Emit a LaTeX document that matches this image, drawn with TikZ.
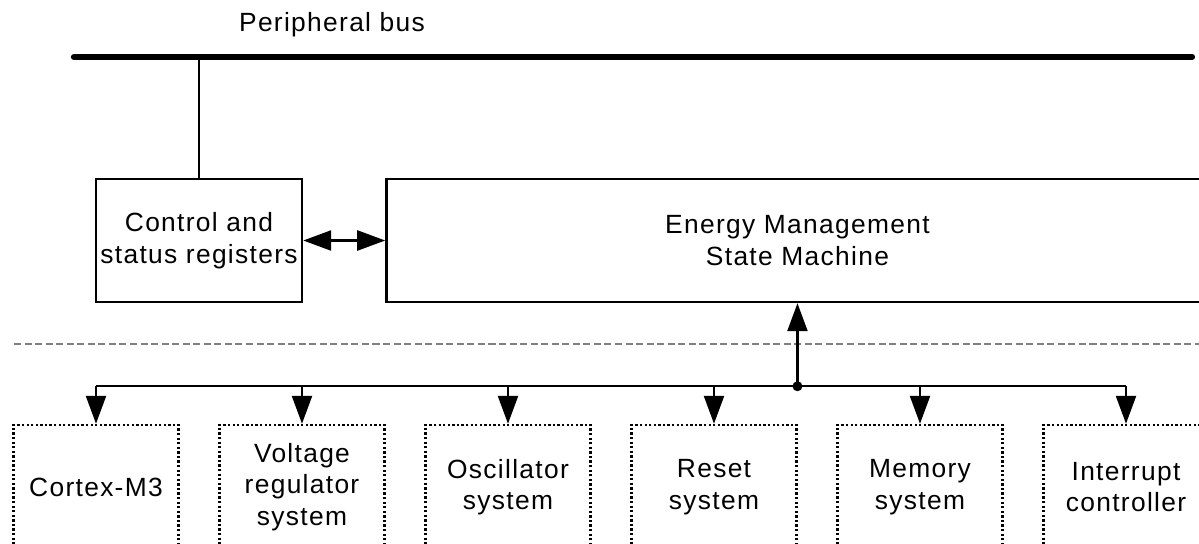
\documentclass[tikz,border=0pt]{standalone}
\usepackage{fontspec}
\setmainfont{Liberation Sans}[LetterSpace=5]
\usetikzlibrary{arrows.meta, positioning}
\definecolor{sepGray}{HTML}{808080}
\tikzset{
  regbox/.style={draw, line width=1.4pt, minimum height=2.46cm, align=center, inner sep=0pt},
  subbox/.style={draw, line width=1.4pt, dash pattern=on 1.3pt off 1.3pt, minimum width=3.3cm,
                 minimum height=2.48cm, align=center, inner sep=0pt},
  sig/.style={line width=1.4pt, -{Triangle[length=0.56cm, width=0.4cm]}},
  sigboth/.style={line width=1.4pt, {Triangle[length=0.56cm, width=0.4cm]}-{Triangle[length=0.56cm, width=0.4cm]}}
}

\begin{document}
\begin{tikzpicture}[font=\fontsize{15}{18}\selectfont]
  \clip (0,0) rectangle (23.98,-10.88);
  % peripheral bus
  \coordinate (busL) at (1.48,-1.14);
  \coordinate (busR) at (23.84,-1.14);
  \draw[line width=3.6pt, line cap=round] (busL) -- (busR);
  \node (buslbl) at (6.64,-0.5) {Peripheral bus};
  % registers and state machine
  \node[regbox, minimum width=4.12cm] (csr) at (3.98,-4.81) {Control and\\status registers};
  \node[regbox, minimum width=16.44cm, right=1.64cm of csr] (ems) {Energy Management\\State Machine};
  \draw[line width=1pt] (csr.north) -- (csr.north |- busL);
  \draw[sigboth] (csr.east) -- (ems.west);
  % separator
  \coordinate (sepL) at (0.28,-6.88);
  \coordinate (sepR) at (24,-6.88);
  \draw[sepGray, line width=0.7pt, dash pattern=on 4pt off 2pt] (sepL) -- (sepR);
  % controlled blocks
  \coordinate[below=1.66cm of ems.south] (jn);
  \foreach \i/\txt in {0/{Cortex-M3}, 1/{Voltage\\regulator\\system}, 2/{Oscillator\\system},
                       3/{Reset\\system}, 4/{Memory\\system}, 5/{Interrupt\\controller}}{
    \node[subbox] (blk\i) at ({1.92+4.12*\i},-9.74) {\txt};
    \draw[sig] (blk\i.north |- jn) -- (blk\i.north);
  }
  \draw[line width=1.4pt] (blk0.north |- jn) -- (blk5.north |- jn);
  \draw[sig] (jn) -- (ems.south);
  \fill (jn) circle (0.1);
\end{tikzpicture}
\end{document}
